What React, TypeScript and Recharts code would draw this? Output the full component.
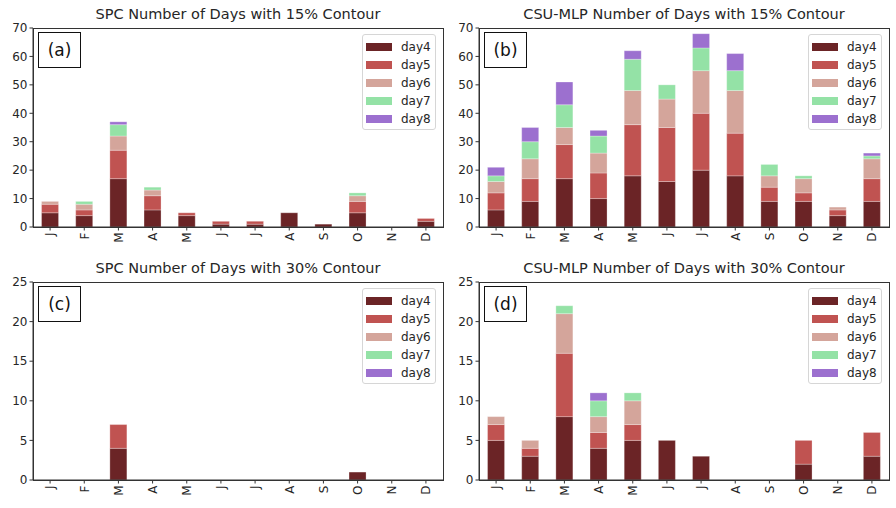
import { BarChart, Bar, XAxis, YAxis, ReferenceLine } from "recharts";

const MONTHS = ["J", "F", "M", "A", "M", "J", "J", "A", "S", "O", "N", "D"];
const SERIES = ["day4", "day5", "day6", "day7", "day8"];
const COLORS = ["#6b2426", "#c05351", "#d4a59b", "#94e2a6", "#9c70cf"];

// SPC, 15% contour
const spc15Day4 = [5, 4, 17, 6, 4, 1, 1, 5, 1, 5, 0, 2];
const spc15Day5 = [3, 2, 10, 5, 1, 1, 1, 0, 0, 4, 0, 1];
const spc15Day6 = [1, 2, 5, 2, 0, 0, 0, 0, 0, 2, 0, 0];
const spc15Day7 = [0, 1, 4, 1, 0, 0, 0, 0, 0, 1, 0, 0];
const spc15Day8 = [0, 0, 1, 0, 0, 0, 0, 0, 0, 0, 0, 0];

// CSU-MLP, 15% contour
const mlp15Day4 = [6, 9, 17, 10, 18, 16, 20, 18, 9, 9, 4, 9];
const mlp15Day5 = [6, 8, 12, 9, 18, 19, 20, 15, 5, 3, 2, 8];
const mlp15Day6 = [4, 7, 6, 7, 12, 10, 15, 15, 4, 5, 1, 7];
const mlp15Day7 = [2, 6, 8, 6, 11, 5, 8, 7, 4, 1, 0, 1];
const mlp15Day8 = [3, 5, 8, 2, 3, 0, 5, 6, 0, 0, 0, 1];

// SPC, 30% contour
const spc30Day4 = [0, 0, 4, 0, 0, 0, 0, 0, 0, 1, 0, 0];
const spc30Day5 = [0, 0, 3, 0, 0, 0, 0, 0, 0, 0, 0, 0];
const spc30Day6 = [0, 0, 0, 0, 0, 0, 0, 0, 0, 0, 0, 0];
const spc30Day7 = [0, 0, 0, 0, 0, 0, 0, 0, 0, 0, 0, 0];
const spc30Day8 = [0, 0, 0, 0, 0, 0, 0, 0, 0, 0, 0, 0];

// CSU-MLP, 30% contour
const mlp30Day4 = [5, 3, 8, 4, 5, 5, 3, 0, 0, 2, 0, 3];
const mlp30Day5 = [2, 1, 8, 2, 2, 0, 0, 0, 0, 3, 0, 3];
const mlp30Day6 = [1, 1, 5, 2, 3, 0, 0, 0, 0, 0, 0, 0];
const mlp30Day7 = [0, 0, 1, 2, 1, 0, 0, 0, 0, 0, 0, 0];
const mlp30Day8 = [0, 0, 0, 1, 0, 0, 0, 0, 0, 0, 0, 0];

const TICKS_15 = [0, 10, 20, 30, 40, 50, 60, 70];
const TICKS_30 = [0, 5, 10, 15, 20, 25];

const FONT = "'DejaVu Sans', sans-serif";
const INK = "#262626";
const AXIS = "#333333";

function buildRows(cols: number[][]) {
  return MONTHS.map((m, i) => {
    const row: Record<string, number | string> = { i, m };
    SERIES.forEach((s, k) => (row[s] = cols[k][i]));
    return row;
  });
}

const MonthTick = (props: any) => {
  const { x, y, payload } = props;
  return (
    <g transform={`translate(${x},${y})`}>
      <text
        transform="rotate(-90)"
        textAnchor="end"
        dy="0.36em"
        fontSize={12}
        fontFamily={FONT}
        fill={INK}
      >
        {MONTHS[payload.value]}
      </text>
    </g>
  );
};

// y tick labels are drawn by the reference lines below; the axis keeps the tick marks
const emptyTick = (props: any) => <g key={`yt-${props.index}`} />;

type PanelProps = {
  left: number;
  top: number;
  plotH: number;
  title: string;
  tag: string;
  cols: number[][];
  ticks: number[];
};

const W = 448;
const H = 254;
const Y_AXIS_W = 33;
const PLOT_W = 410;
const M_TOP = 28;

function Panel({ left, top, plotH, title, tag, cols, ticks }: PanelProps) {
  const data = buildRows(cols);
  const xAxisH = H - M_TOP - plotH;
  return (
    <div style={{ position: "absolute", left, top, width: W, height: H }}>
      <div
        style={{
          position: "absolute",
          left: Y_AXIS_W,
          width: PLOT_W,
          top: 6,
          textAlign: "center",
          fontFamily: FONT,
          fontSize: 14.5,
          color: INK,
          whiteSpace: "nowrap",
        }}
      >
        {title}
      </div>
      <BarChart
        width={W}
        height={H}
        data={data}
        margin={{ top: M_TOP, right: W - Y_AXIS_W - PLOT_W, bottom: 0, left: 0 }}
        barCategoryGap="25%"
      >
        <XAxis
          dataKey="i"
          type="category"
          interval={0}
          height={xAxisH}
          tick={<MonthTick />}
          tickSize={3.5}
          tickMargin={2}
          axisLine={{ stroke: AXIS }}
          tickLine={{ stroke: AXIS }}
        />
        <YAxis
          type="number"
          domain={[0, ticks[ticks.length - 1]]}
          ticks={ticks}
          interval={0}
          width={Y_AXIS_W}
          tickSize={3.5}
          tickMargin={2}
          tick={emptyTick}
          axisLine={{ stroke: AXIS }}
          tickLine={{ stroke: AXIS }}
        />
        {SERIES.map((s, k) => (
          <Bar
            key={s}
            dataKey={s}
            stackId="a"
            fill={COLORS[k]}
            stroke="#ffffff"
            strokeOpacity={0.45}
            strokeWidth={0.6}
            isAnimationActive={false}
          />
        ))}
        {ticks.map((t) => (
          <ReferenceLine
            key={`lbl-${t}`}
            y={t}
            stroke="none"
            ifOverflow="visible"
            label={{
              value: String(t),
              position: "left",
              offset: 5.5,
              fontSize: 12,
              fontFamily: FONT,
              fill: INK,
            }}
          />
        ))}
      </BarChart>
      {/* plot frame */}
      <div
        style={{
          position: "absolute",
          left: Y_AXIS_W,
          top: M_TOP,
          width: PLOT_W + 1,
          height: plotH + 1,
          boxSizing: "border-box",
          border: `1px solid ${AXIS}`,
          pointerEvents: "none",
        }}
      />
      <div
        style={{
          position: "absolute",
          left: Y_AXIS_W + 5,
          top: M_TOP + 4,
          width: 43,
          height: 36,
          boxSizing: "border-box",
          border: "1px solid #111",
          background: "#fff",
          display: "flex",
          alignItems: "center",
          justifyContent: "center",
          fontFamily: FONT,
          fontSize: 17,
          color: "#111",
        }}
      >
        {tag}
      </div>
      <div
        style={{
          position: "absolute",
          left: Y_AXIS_W + PLOT_W - 81,
          top: M_TOP + 6,
          width: 74,
          height: 96,
          boxSizing: "border-box",
          border: "1px solid #d6d6d6",
          borderRadius: 3,
          background: "rgba(255,255,255,0.85)",
          padding: "3px 0 3px 3px",
          fontFamily: FONT,
          fontSize: 12,
          color: INK,
        }}
      >
        {SERIES.map((s, k) => (
          <div key={s} style={{ height: 18, display: "flex", alignItems: "center" }}>
            <span
              style={{
                display: "inline-block",
                width: 26,
                height: 8,
                background: COLORS[k],
                marginRight: 9,
              }}
            />
            {s}
          </div>
        ))}
      </div>
    </div>
  );
}

export default function App() {
  return (
    <div
      style={{
        position: "absolute",
        left: 0,
        top: 0,
        width: 896,
        height: 508,
        background: "#fff",
        overflow: "hidden",
      }}
    >
      <Panel
        left={0}
        top={0}
        plotH={199}
        title="SPC Number of Days with 15% Contour"
        tag="(a)"
        cols={[spc15Day4, spc15Day5, spc15Day6, spc15Day7, spc15Day8]}
        ticks={TICKS_15}
      />
      <Panel
        left={446}
        top={0}
        plotH={199}
        title="CSU-MLP Number of Days with 15% Contour"
        tag="(b)"
        cols={[mlp15Day4, mlp15Day5, mlp15Day6, mlp15Day7, mlp15Day8]}
        ticks={TICKS_15}
      />
      <Panel
        left={0}
        top={254}
        plotH={198}
        title="SPC Number of Days with 30% Contour"
        tag="(c)"
        cols={[spc30Day4, spc30Day5, spc30Day6, spc30Day7, spc30Day8]}
        ticks={TICKS_30}
      />
      <Panel
        left={446}
        top={254}
        plotH={198}
        title="CSU-MLP Number of Days with 30% Contour"
        tag="(d)"
        cols={[mlp30Day4, mlp30Day5, mlp30Day6, mlp30Day7, mlp30Day8]}
        ticks={TICKS_30}
      />
    </div>
  );
}
